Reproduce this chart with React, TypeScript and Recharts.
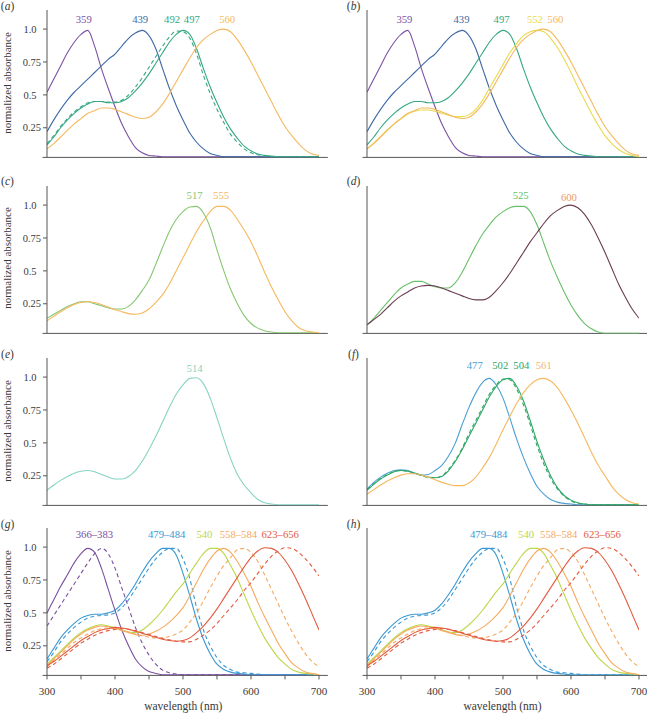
import React from "react";
import { LineChart, Line, XAxis, YAxis, ReferenceLine, ReferenceDot } from "recharts";

// wavelength grid (nm)
const WL = [
  300, 310, 320, 330, 340, 350, 360, 370, 380, 390, 400, 410, 420, 430, 440, 450, 460, 470, 480, 490, 500,
  510, 520, 530, 540, 550, 560, 570, 580, 590, 600, 610, 620, 630, 640, 650, 660, 670, 680, 690, 700,
];

const X_TICKS = [300, 350, 400, 450, 500, 550, 600, 650, 700];
const X_TICK_LABELS = ["300", "", "400", "", "500", "", "600", "", "700"];
const Y_TICKS = [0.25, 0.5, 0.75, 1.0];
const Y_TICK_LABELS = ["0.25", "0.5", "0.75", "1.0"];

// normalized absorbance, one value per WL entry
const s359 = [0.52, 0.62, 0.72, 0.82, 0.9, 0.96, 0.99, 0.87, 0.7, 0.55, 0.41, 0.28, 0.18, 0.1, 0.06, 0.04, 0.035, 0.03, 0.03, 0.03, 0.03, 0.03, 0.03, 0.03, 0.03, 0.03, 0.03, 0.03, 0.03, 0.03, 0.03, 0.03, 0.03, 0.03, 0.03, 0.03, 0.03, 0.03, 0.03, 0.03, 0.03];
const s439 = [0.22, 0.31, 0.39, 0.46, 0.52, 0.57, 0.62, 0.67, 0.72, 0.77, 0.81, 0.87, 0.93, 0.97, 0.99, 0.95, 0.85, 0.7, 0.55, 0.42, 0.31, 0.21, 0.14, 0.09, 0.055, 0.04, 0.03, 0.03, 0.03, 0.03, 0.03, 0.03, 0.03, 0.03, 0.03, 0.03, 0.03, 0.03, 0.03, 0.03, 0.03];
const s492 = [0.13, 0.19, 0.26, 0.32, 0.37, 0.41, 0.44, 0.45, 0.45, 0.445, 0.445, 0.46, 0.5, 0.56, 0.63, 0.71, 0.79, 0.87, 0.94, 0.985, 0.98, 0.93, 0.81, 0.65, 0.51, 0.39, 0.29, 0.2, 0.14, 0.09, 0.06, 0.045, 0.035, 0.03, 0.03, 0.03, 0.03, 0.03, 0.03, 0.03, 0.03];
const s497 = [0.12, 0.18, 0.25, 0.31, 0.36, 0.4, 0.43, 0.45, 0.45, 0.44, 0.44, 0.45, 0.48, 0.53, 0.59, 0.66, 0.74, 0.82, 0.9, 0.96, 0.99, 0.96, 0.85, 0.7, 0.56, 0.44, 0.33, 0.24, 0.17, 0.11, 0.075, 0.05, 0.04, 0.035, 0.03, 0.03, 0.03, 0.03, 0.03, 0.03, 0.03];
const s560 = [0.09, 0.13, 0.18, 0.23, 0.28, 0.32, 0.36, 0.38, 0.4, 0.4, 0.39, 0.37, 0.35, 0.33, 0.32, 0.33, 0.37, 0.43, 0.51, 0.6, 0.69, 0.78, 0.86, 0.92, 0.96, 0.99, 1.0, 0.98, 0.92, 0.84, 0.75, 0.65, 0.55, 0.45, 0.35, 0.26, 0.19, 0.13, 0.08, 0.05, 0.04];
const s552 = [0.09, 0.135, 0.185, 0.235, 0.28, 0.32, 0.355, 0.375, 0.385, 0.385, 0.375, 0.36, 0.345, 0.335, 0.335, 0.35, 0.39, 0.46, 0.55, 0.64, 0.73, 0.82, 0.89, 0.95, 0.98, 0.99, 0.98, 0.93, 0.86, 0.77, 0.67, 0.56, 0.46, 0.36, 0.27, 0.19, 0.13, 0.085, 0.055, 0.04, 0.03];
const s517 = [0.14, 0.17, 0.2, 0.23, 0.25, 0.265, 0.265, 0.25, 0.235, 0.22, 0.21, 0.21, 0.23, 0.28, 0.35, 0.43, 0.55, 0.68, 0.8, 0.89, 0.95, 0.985, 0.99, 0.94, 0.83, 0.66, 0.5, 0.36, 0.25, 0.16, 0.1, 0.065, 0.045, 0.035, 0.03, 0.03, 0.03, 0.03, 0.03, 0.03, 0.03];
const s555 = [0.12, 0.155, 0.19, 0.22, 0.245, 0.26, 0.265, 0.26, 0.245, 0.225, 0.205, 0.19, 0.175, 0.17, 0.18, 0.21, 0.26, 0.32, 0.4, 0.5, 0.6, 0.7, 0.8, 0.88, 0.95, 0.99, 0.99, 0.96, 0.89, 0.81, 0.72, 0.61, 0.49, 0.38, 0.28, 0.19, 0.12, 0.07, 0.045, 0.035, 0.03];
const s525 = [0.09, 0.14, 0.2, 0.26, 0.32, 0.37, 0.4, 0.42, 0.42, 0.4, 0.38, 0.37, 0.37, 0.41, 0.49, 0.59, 0.69, 0.78, 0.85, 0.91, 0.95, 0.98, 0.99, 0.99, 0.95, 0.85, 0.71, 0.57, 0.45, 0.34, 0.24, 0.16, 0.1, 0.06, 0.035, 0.025, 0.025, 0.025, 0.025, 0.025, 0.025];
const s600 = [0.09, 0.13, 0.17, 0.22, 0.27, 0.31, 0.34, 0.37, 0.385, 0.39, 0.385, 0.37, 0.35, 0.33, 0.31, 0.29, 0.28, 0.28, 0.3, 0.35, 0.41, 0.48, 0.56, 0.64, 0.72, 0.79, 0.86, 0.92, 0.96, 0.99, 1.0, 0.98, 0.93, 0.85, 0.75, 0.64, 0.52, 0.4, 0.3, 0.21, 0.14];
const s514 = [0.14, 0.18, 0.215, 0.245, 0.27, 0.285, 0.29, 0.28, 0.26, 0.24, 0.225, 0.225, 0.245, 0.29, 0.36, 0.45, 0.55, 0.66, 0.77, 0.87, 0.94, 0.99, 0.995, 0.95, 0.84, 0.69, 0.53, 0.38, 0.26, 0.18, 0.12, 0.07, 0.045, 0.035, 0.03, 0.03, 0.03, 0.03, 0.03, 0.03, 0.03];
const s477 = [0.15, 0.2, 0.24, 0.27, 0.29, 0.295, 0.29, 0.27, 0.255, 0.26, 0.29, 0.33, 0.4, 0.5, 0.64, 0.77, 0.88, 0.96, 0.99, 0.94, 0.84, 0.69, 0.53, 0.39, 0.27, 0.17, 0.11, 0.07, 0.05, 0.04, 0.035, 0.03, 0.03, 0.03, 0.03, 0.03, 0.03, 0.03, 0.03, 0.03, 0.03];
const s502 = [0.145, 0.19, 0.23, 0.26, 0.283, 0.29, 0.285, 0.268, 0.252, 0.238, 0.236, 0.25, 0.3, 0.37, 0.46, 0.57, 0.67, 0.77, 0.87, 0.94, 0.985, 0.98, 0.91, 0.79, 0.64, 0.48, 0.34, 0.23, 0.15, 0.095, 0.06, 0.04, 0.035, 0.03, 0.03, 0.03, 0.03, 0.03, 0.03, 0.03, 0.03];
const s504 = [0.14, 0.185, 0.225, 0.255, 0.28, 0.29, 0.285, 0.27, 0.255, 0.24, 0.235, 0.245, 0.29, 0.36, 0.45, 0.55, 0.65, 0.75, 0.85, 0.93, 0.98, 0.99, 0.93, 0.82, 0.67, 0.51, 0.37, 0.25, 0.16, 0.1, 0.065, 0.045, 0.035, 0.03, 0.03, 0.03, 0.03, 0.03, 0.03, 0.03, 0.03];
const s561 = [0.11, 0.145, 0.18, 0.21, 0.235, 0.255, 0.265, 0.265, 0.255, 0.24, 0.22, 0.2, 0.185, 0.175, 0.175, 0.195, 0.24, 0.31, 0.39, 0.49, 0.6, 0.7, 0.8, 0.88, 0.94, 0.98, 0.99, 0.97, 0.92, 0.84, 0.75, 0.65, 0.54, 0.43, 0.33, 0.25, 0.17, 0.11, 0.07, 0.045, 0.035];
const s366 = [0.5, 0.6, 0.7, 0.79, 0.88, 0.95, 0.99, 0.96, 0.84, 0.68, 0.52, 0.37, 0.25, 0.15, 0.09, 0.055, 0.04, 0.03, 0.03, 0.03, 0.03, 0.03, 0.03, 0.03, 0.03, 0.03, 0.03, 0.03, 0.03, 0.03, 0.03, 0.03, 0.03, 0.03, 0.03, 0.03, 0.03, 0.03, 0.03, 0.03, 0.03];
const s383 = [0.4, 0.48, 0.56, 0.64, 0.72, 0.8, 0.88, 0.95, 0.99, 0.95, 0.84, 0.69, 0.54, 0.39, 0.27, 0.18, 0.11, 0.065, 0.045, 0.035, 0.03, 0.03, 0.03, 0.03, 0.03, 0.03, 0.03, 0.03, 0.03, 0.03, 0.03, 0.03, 0.03, 0.03, 0.03, 0.03, 0.03, 0.03, 0.03, 0.03, 0.03];
const s479 = [0.15, 0.23, 0.31, 0.37, 0.42, 0.46, 0.48, 0.49, 0.49, 0.5, 0.52, 0.57, 0.64, 0.72, 0.81, 0.89, 0.95, 0.99, 0.99, 0.94, 0.8, 0.63, 0.45, 0.3, 0.19, 0.11, 0.07, 0.05, 0.04, 0.035, 0.03, 0.03, 0.03, 0.03, 0.03, 0.03, 0.03, 0.03, 0.03, 0.03, 0.03];
const s484 = [0.13, 0.2, 0.28, 0.34, 0.39, 0.43, 0.46, 0.475, 0.48, 0.485, 0.5, 0.54, 0.6, 0.68, 0.76, 0.84, 0.91, 0.96, 0.99, 0.99, 0.91, 0.76, 0.54, 0.37, 0.25, 0.16, 0.1, 0.07, 0.05, 0.045, 0.04, 0.035, 0.03, 0.03, 0.03, 0.03, 0.03, 0.03, 0.03, 0.03, 0.03];
const s540 = [0.11, 0.16, 0.21, 0.26, 0.31, 0.35, 0.38, 0.4, 0.41, 0.4, 0.39, 0.37, 0.355, 0.35, 0.37, 0.41, 0.46, 0.52, 0.59, 0.66, 0.72, 0.8, 0.88, 0.95, 0.99, 0.99, 0.95, 0.86, 0.76, 0.64, 0.52, 0.41, 0.31, 0.23, 0.16, 0.11, 0.07, 0.05, 0.04, 0.035, 0.03];
const s558 = [0.1, 0.15, 0.2, 0.25, 0.3, 0.34, 0.37, 0.39, 0.4, 0.395, 0.385, 0.365, 0.35, 0.335, 0.33, 0.34, 0.36, 0.39, 0.43, 0.48, 0.54, 0.63, 0.73, 0.83, 0.91, 0.97, 0.99, 0.96, 0.89, 0.8, 0.7, 0.58, 0.47, 0.37, 0.27, 0.19, 0.12, 0.08, 0.05, 0.04, 0.03];
const s584 = [0.09, 0.14, 0.185, 0.23, 0.275, 0.31, 0.34, 0.365, 0.38, 0.385, 0.38, 0.37, 0.355, 0.34, 0.325, 0.315, 0.31, 0.31, 0.32, 0.34, 0.37, 0.43, 0.5, 0.59, 0.69, 0.78, 0.86, 0.92, 0.98, 0.99, 0.96, 0.89, 0.79, 0.68, 0.57, 0.46, 0.36, 0.27, 0.19, 0.13, 0.09];
const s623 = [0.1, 0.13, 0.17, 0.21, 0.25, 0.29, 0.32, 0.35, 0.37, 0.38, 0.39, 0.385, 0.375, 0.36, 0.345, 0.33, 0.315, 0.3, 0.29, 0.285, 0.29, 0.31, 0.35, 0.4, 0.46, 0.53, 0.61, 0.69, 0.77, 0.85, 0.92, 0.97, 0.995, 0.99, 0.96, 0.9, 0.82, 0.72, 0.61, 0.49, 0.37];
const s656 = [0.08, 0.11, 0.15, 0.19, 0.23, 0.27, 0.3, 0.33, 0.35, 0.365, 0.375, 0.38, 0.375, 0.365, 0.35, 0.335, 0.32, 0.305, 0.295, 0.285, 0.28, 0.28, 0.3, 0.33, 0.37, 0.42, 0.48, 0.54, 0.6, 0.67, 0.73, 0.8, 0.87, 0.93, 0.97, 0.995, 0.99, 0.96, 0.91, 0.85, 0.78];

const C = {
  violet: "#7b52a3",
  navy: "#3f6aa5",
  teal: "#35a883",
  orange: "#f6b85f",
  yellow: "#e9da4e",
  green: "#86c773",
  green2: "#68c068",
  plum: "#6a3d52",
  salmon: "#eb9a68",
  aqua: "#86d3c3",
  sky: "#4a9fd4",
  emerald: "#2ea767",
  purple: "#7a4ea1",
  blue: "#3a98d4",
  lime: "#bdd64a",
  apricot: "#f6a95e",
  red: "#e35a3f",
};

const AXIS = "#555";
const TEXT = "#3a3a3a";
const FONT = "'Liberation Serif', 'Times New Roman', serif";
const DASH = "4 3";

const Y_MIN = 0.025;
const Y_MAX = 1.145;
const PLOT_W = 272;
const PLOT_H = 147.4;
const Y_AXIS_W = 48;
const M_TOP = 4;
const M_RIGHT = 16;
const COL_X = [47.3, 366.5];
const ROW_Y = [10.3, 185.5, 358.2, 528.4];

type Series = { key: string; values: number[]; color: string; dashed?: boolean };
type Peak = { text: string; x: number; y: number; color: string };
type Panel = { letter: string; col: number; row: number; series: Series[]; peaks: Peak[] };

const panels: Panel[] = [
  {
    letter: "a", col: 0, row: 0,
    series: [
      { key: "s359", values: s359, color: C.violet },
      { key: "s439", values: s439, color: C.navy },
      { key: "s492", values: s492, color: C.teal, dashed: true },
      { key: "s497", values: s497, color: C.teal },
      { key: "s560", values: s560, color: C.orange },
    ],
    peaks: [
      { text: "359", x: 354, y: 1.076, color: C.violet },
      { text: "439", x: 437, y: 1.076, color: C.navy },
      { text: "492", x: 484, y: 1.076, color: C.teal },
      { text: "497", x: 513, y: 1.076, color: C.teal },
      { text: "560", x: 565, y: 1.076, color: C.orange },
    ],
  },
  {
    letter: "b", col: 1, row: 0,
    series: [
      { key: "s359", values: s359, color: C.violet },
      { key: "s439", values: s439, color: C.navy },
      { key: "s497", values: s497, color: C.teal },
      { key: "s552", values: s552, color: C.yellow },
      { key: "s560", values: s560, color: C.orange },
    ],
    peaks: [
      { text: "359", x: 355, y: 1.073, color: C.violet },
      { text: "439", x: 439, y: 1.073, color: C.navy },
      { text: "497", x: 498, y: 1.073, color: C.teal },
      { text: "552", x: 547, y: 1.073, color: C.yellow },
      { text: "560", x: 577, y: 1.073, color: C.orange },
    ],
  },
  {
    letter: "c", col: 0, row: 1,
    series: [
      { key: "s517", values: s517, color: C.green },
      { key: "s555", values: s555, color: C.orange },
    ],
    peaks: [
      { text: "517", x: 517, y: 1.074, color: C.green },
      { text: "555", x: 556, y: 1.074, color: C.orange },
    ],
  },
  {
    letter: "d", col: 1, row: 1,
    series: [
      { key: "s525", values: s525, color: C.green2 },
      { key: "s600", values: s600, color: C.plum },
    ],
    peaks: [
      { text: "525", x: 526, y: 1.078, color: C.green2 },
      { text: "600", x: 597, y: 1.063, color: C.salmon },
    ],
  },
  {
    letter: "e", col: 0, row: 2,
    series: [{ key: "s514", values: s514, color: C.aqua }],
    peaks: [{ text: "514", x: 517, y: 1.068, color: C.aqua }],
  },
  {
    letter: "f", col: 1, row: 2,
    series: [
      { key: "s477", values: s477, color: C.sky },
      { key: "s502", values: s502, color: C.emerald, dashed: true },
      { key: "s504", values: s504, color: C.emerald },
      { key: "s561", values: s561, color: C.orange },
    ],
    peaks: [
      { text: "477", x: 458.5, y: 1.088, color: C.sky },
      { text: "502", x: 496, y: 1.088, color: C.emerald },
      { text: "504", x: 527, y: 1.088, color: C.emerald },
      { text: "561", x: 560, y: 1.088, color: C.orange },
    ],
  },
  {
    letter: "g", col: 0, row: 3,
    series: [
      { key: "s366", values: s366, color: C.purple },
      { key: "s383", values: s383, color: C.purple, dashed: true },
      { key: "s479", values: s479, color: C.blue },
      { key: "s484", values: s484, color: C.blue, dashed: true },
      { key: "s540", values: s540, color: C.lime },
      { key: "s558", values: s558, color: C.apricot },
      { key: "s584", values: s584, color: C.apricot, dashed: true },
      { key: "s623", values: s623, color: C.red },
      { key: "s656", values: s656, color: C.red, dashed: true },
    ],
    peaks: [
      { text: "366–383", x: 369.7, y: 1.097, color: C.purple },
      { text: "479–484", x: 476, y: 1.097, color: C.blue },
      { text: "540", x: 531.5, y: 1.097, color: C.lime },
      { text: "558–584", x: 581.5, y: 1.097, color: C.apricot },
      { text: "623–656", x: 643, y: 1.097, color: C.red },
    ],
  },
  {
    letter: "h", col: 1, row: 3,
    series: [
      { key: "s479", values: s479, color: C.blue },
      { key: "s484", values: s484, color: C.blue, dashed: true },
      { key: "s540", values: s540, color: C.lime },
      { key: "s558", values: s558, color: C.apricot },
      { key: "s584", values: s584, color: C.apricot, dashed: true },
      { key: "s623", values: s623, color: C.red },
      { key: "s656", values: s656, color: C.red, dashed: true },
    ],
    peaks: [
      { text: "479–484", x: 479, y: 1.094, color: C.blue },
      { text: "540", x: 534, y: 1.094, color: C.lime },
      { text: "558–584", x: 582, y: 1.094, color: C.apricot },
      { text: "623–656", x: 646, y: 1.094, color: C.red },
    ],
  },
];

// y tick labels line up on the decimal point
const YTick = (props: any) => {
  const { x, y, payload } = props;
  const label = Y_TICK_LABELS[Y_TICKS.indexOf(payload.value)] ?? "";
  const shift = label.length === 3 ? 4.5 : 0;
  return (
    <text x={x - shift} y={y} dy="0.35em" textAnchor="end" fontSize={10.5} fill={TEXT} fontFamily={FONT}>
      {label}
    </text>
  );
};

const abs = (left: number, top: number): React.CSSProperties => ({
  position: "absolute",
  left,
  top,
  transform: "translate(-50%, -50%)",
  whiteSpace: "nowrap",
  lineHeight: 1,
});

const SpectraPanel = ({ panel }: { panel: Panel }) => {
  const bottom = panel.row === 3;
  const xh = bottom ? 28 : 8;
  const rows = WL.map((wl, i) => {
    const r: Record<string, number> = { wl };
    panel.series.forEach((s) => (r[s.key] = s.values[i]));
    return r;
  });
  const plotX = COL_X[panel.col];
  const plotY = ROW_Y[panel.row];

  return (
    <>
      <div style={{ position: "absolute", left: plotX - Y_AXIS_W, top: plotY - M_TOP }}>
        <LineChart
          width={Y_AXIS_W + PLOT_W + M_RIGHT}
          height={M_TOP + PLOT_H + xh}
          data={rows}
          margin={{ top: M_TOP, right: M_RIGHT, bottom: 0, left: 0 }}
        >
          <XAxis
            type="number"
            dataKey="wl"
            domain={[300, 700]}
            ticks={X_TICKS}
            interval={0}
            allowDataOverflow
            height={xh}
            axisLine={false}
            tickLine={{ stroke: AXIS }}
            tickSize={4}
            tickMargin={7.5}
            tick={bottom ? { fontSize: 11, fill: TEXT, fontFamily: FONT } : false}
            tickFormatter={(v: number) => X_TICK_LABELS[X_TICKS.indexOf(v)] ?? ""}
          />
          <YAxis
            type="number"
            domain={[Y_MIN, Y_MAX]}
            ticks={Y_TICKS}
            interval={0}
            allowDataOverflow
            width={Y_AXIS_W}
            axisLine={{ stroke: AXIS }}
            tickLine={{ stroke: AXIS }}
            tickSize={4}
            tickMargin={2}
            tick={panel.col === 0 ? <YTick /> : false}
          />
          <ReferenceLine
            segment={[{ x: 293.5, y: Y_MIN }, { x: 713, y: Y_MIN }]}
            stroke={AXIS}
            ifOverflow="visible"
          />
          {panel.series.map((s) => (
            <Line
              key={s.key}
              dataKey={s.key}
              type="monotone"
              stroke={s.color}
              strokeWidth={1.1}
              strokeDasharray={s.dashed ? DASH : undefined}
              dot={false}
              activeDot={false}
              isAnimationActive={false}
            />
          ))}
          {panel.peaks.map((p) => (
            <ReferenceDot
              key={p.text}
              x={p.x}
              y={p.y}
              r={0}
              ifOverflow="visible"
              shape={(d: any) => (
                <text x={d.cx} y={d.cy} dy="0.35em" textAnchor="middle" fontSize={10.7} fill={p.color} fontFamily={FONT}>
                  {p.text}
                </text>
              )}
            />
          ))}
        </LineChart>
      </div>
      <div style={{ ...abs(panel.col === 0 ? 7.5 : 353.5, ROW_Y[panel.row] - 3.5), fontSize: 11.5, color: TEXT }}>
        (<i>{panel.letter}</i>)
      </div>
      {panel.col === 0 && (
        <div
          style={{
            ...abs(7, plotY + PLOT_H / 2 - 1),
            transform: "translate(-50%, -50%) rotate(-90deg)",
            fontSize: 11,
            color: TEXT,
          }}
        >
          normalized absorbance
        </div>
      )}
      {bottom && (
        <div style={{ ...abs(plotX + PLOT_W / 2, 707), fontSize: 11.5, color: TEXT }}>wavelength (nm)</div>
      )}
    </>
  );
};

export default function App() {
  return (
    <div
      style={{
        position: "absolute",
        left: 0,
        top: 0,
        width: 647,
        height: 713,
        background: "#fff",
        fontFamily: FONT,
        overflow: "hidden",
      }}
    >
      {panels.map((p) => (
        <SpectraPanel key={p.letter} panel={p} />
      ))}
    </div>
  );
}
